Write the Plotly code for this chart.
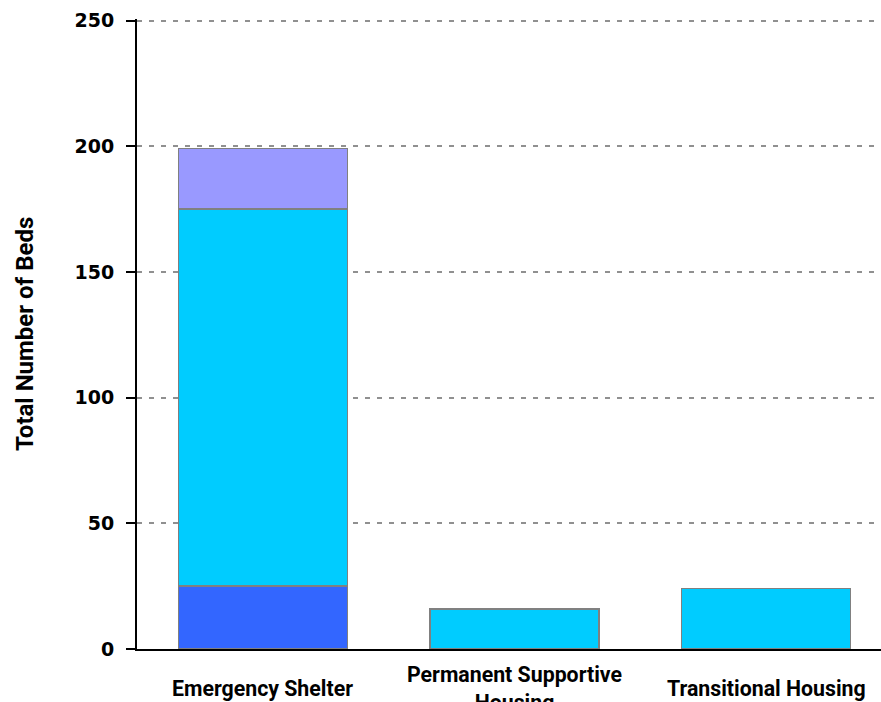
import plotly.graph_objects as go

categories = ["Emergency Shelter", "Permanent Supportive Housing", "Transitional Housing"]
category_labels = ["Emergency Shelter", "Permanent Supportive<br>Housing", "Transitional Housing"]
series_names = ["Series 1", "Series 2", "Series 3"]
series_1 = [25, 0, 0]
series_2 = [150, 16, 24]
series_3 = [24, 0, 0]
series_colors = ["#3366FF", "#00CCFF", "#9999FF"]
y_ticks = [0, 50, 100, 150, 200, 250]

L, R, T, B = 137, 0, 19, 53
PW = 755
PH = 630
W = L + PW + R
H = T + PH + B

fig = go.Figure()
for name, vals, col in zip(series_names, [series_1, series_2, series_3], series_colors):
    fig.add_trace(go.Bar(
        x=categories, y=vals, name=name,
        marker=dict(color=col, line=dict(color="#808080", width=1.5)),
    ))

fig.update_layout(
    barmode="stack",
    bargap=0.328,
    width=W, height=H,
    margin=dict(l=L, r=R, t=T, b=B),
    plot_bgcolor="white", paper_bgcolor="white",
    showlegend=False,
    xaxis=dict(
        showticklabels=False, showline=True, linecolor="black", linewidth=2,
        ticks="", showgrid=False, fixedrange=True,
    ),
    yaxis=dict(
        range=[0, 250.6], tickvals=y_ticks, showline=True, linecolor="black", linewidth=2,
        ticks="outside", ticklen=9, tickcolor="black", tickwidth=2,
        ticklabelstandoff=8, ticklabeloverflow="allow",
        showgrid=True, gridcolor="#909090", gridwidth=2, griddash="5px,7px",
        tickfont=dict(family="DejaVu Sans", size=19, color="black", weight="bold"),
        zeroline=False,
    ),
)

for cat, lab in zip(categories, category_labels):
    fig.add_annotation(
        x=cat, xref="x", y=0, yref="paper", yanchor="middle", yshift=-39,
        text="<b>" + lab + "</b>", showarrow=False,
        font=dict(family="Roboto", size=21.3, color="black"),
    )

fig.add_annotation(
    x=(25 - L) / PW, xref="paper", y=0.5, yref="paper",
    xanchor="center", yanchor="middle", textangle=-90,
    text="<b>Total Number of Beds</b>", showarrow=False,
    font=dict(family="Roboto", size=24, color="black"),
)

fig.write_html(
    "out.html",
    config={"displayModeBar": False},
    post_script="document.body.style.margin='0';document.body.style.overflow='hidden';",
)
